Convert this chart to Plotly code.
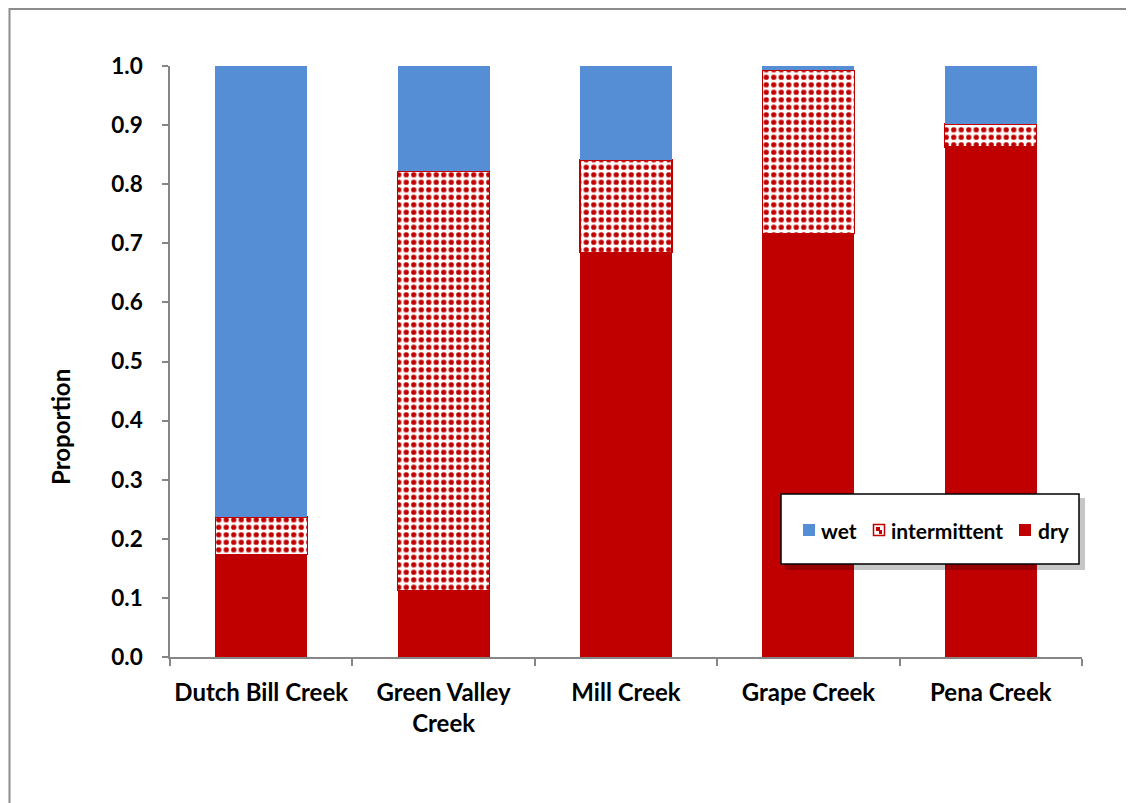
import plotly.graph_objects as go

categories = ["Dutch Bill Creek", "Green Valley<br>Creek", "Mill Creek", "Grape Creek", "Pena Creek"]
dry = [0.173, 0.113, 0.684, 0.717, 0.863]
intermittent = [0.064, 0.709, 0.157, 0.276, 0.039]
wet = [0.763, 0.178, 0.159, 0.007, 0.098]
y_ticks = [0.0, 0.1, 0.2, 0.3, 0.4, 0.5, 0.6, 0.7, 0.8, 0.9, 1.0]
legend_names = ["wet", "intermittent", "dry"]
y_title = "Proportion"

RED = "#C00000"
BLUE = "#558ED5"
AXIS = "#868686"
FONT = "Lato"

OFF = 8  # page body margin
W, H = 1134 - OFF, 803 - OFF
L, T = 170 - OFF, 66 - OFF
R = W - (1082 - OFF)
B = H - (657 - OFF)
pw, ph = W - L - R, H - T - B

fig = go.Figure()
fig.add_trace(go.Bar(x=categories, y=dry, name="dry", marker=dict(color=RED, line=dict(width=0))))
fig.add_trace(go.Bar(x=categories, y=intermittent, name="intermittent",
                     marker=dict(color="white", line=dict(color=RED, width=1.2),
                                 pattern=dict(shape=".", fgcolor=RED, bgcolor="white",
                                              size=7.5, solidity=0.4, fillmode="replace"))))
fig.add_trace(go.Bar(x=categories, y=wet, name="wet", marker=dict(color=BLUE, line=dict(width=0))))


def px_x(p):
    """page pixel x -> paper x"""
    return (p - OFF - L) / pw


def px_y(p):
    """page pixel y -> paper y"""
    return 1 - (p - OFF - T) / ph


def rect(x0, y0, x1, y1, **kw):
    return dict(type="rect", xref="paper", yref="paper", x0=px_x(x0), x1=px_x(x1),
                y0=px_y(y1), y1=px_y(y0), **kw)


shapes = [
    rect(9.5, 9, 1150, 820, line=dict(color="#8C8C8C", width=2), fillcolor="rgba(0,0,0,0)", layer="below"),
    # legend shadow
    rect(785, 498, 1085, 570, line=dict(width=0), fillcolor="rgba(0,0,0,0.22)", layer="above"),
    # legend box
    rect(781, 494, 1079, 564, line=dict(color="black", width=1.5), fillcolor="white", layer="above"),
    # legend icons
    rect(803, 524, 815, 536, line=dict(width=0), fillcolor=BLUE, layer="above"),
    rect(873.5, 524.5, 884.5, 535.5, line=dict(color=RED, width=1.5), fillcolor="white", layer="above"),
    rect(876, 527, 880, 531, line=dict(width=0), fillcolor=RED, layer="above"),
    rect(879, 530, 882, 534, line=dict(width=0), fillcolor=RED, layer="above"),
    rect(1019, 524, 1031, 536, line=dict(width=0), fillcolor=RED, layer="above"),
]

legend_x = [819, 889, 1036]
annotations = [
    dict(xref="paper", yref="paper", x=px_x(lx), y=px_y(530), text=f"<b>{name}</b>", showarrow=False,
         xanchor="left", yanchor="middle", font=dict(family=FONT, size=21, color="black"))
    for name, lx in zip(legend_names, legend_x)
]
annotations.append(
    dict(xref="paper", yref="paper", x=px_x(60), y=px_y(427), text=f"<b>{y_title}</b>", showarrow=False,
         textangle=-90, xanchor="center", yanchor="middle", font=dict(family=FONT, size=24, color="black"))
)

fig.update_layout(
    width=W, height=H,
    margin=dict(l=L, r=R, t=T, b=B),
    barmode="stack",
    bargap=0.495,
    plot_bgcolor="white",
    paper_bgcolor="white",
    font=dict(family=FONT, size=24, color="black"),
    showlegend=False,
    shapes=shapes,
    annotations=annotations,
    xaxis=dict(showline=True, linecolor=AXIS, linewidth=1.5, ticks="outside", tickson="boundaries",
               ticklen=7, tickcolor=AXIS, tickwidth=1.5, ticklabelstandoff=13, tickangle=0,
               tickfont=dict(family=FONT, size=24, color="black", weight="bold")),
    yaxis=dict(range=[0, 1], tickvals=y_ticks, ticktext=[f"{v:.1f}" for v in y_ticks],
               showline=True, linecolor=AXIS, linewidth=1.5, ticks="outside", ticklen=6,
               tickcolor=AXIS, tickwidth=1.5, showgrid=False, zeroline=False, ticklabelstandoff=15,
               tickfont=dict(family=FONT, size=22.5, color="black", weight="bold")),
)

fig.write_html("out.html")
